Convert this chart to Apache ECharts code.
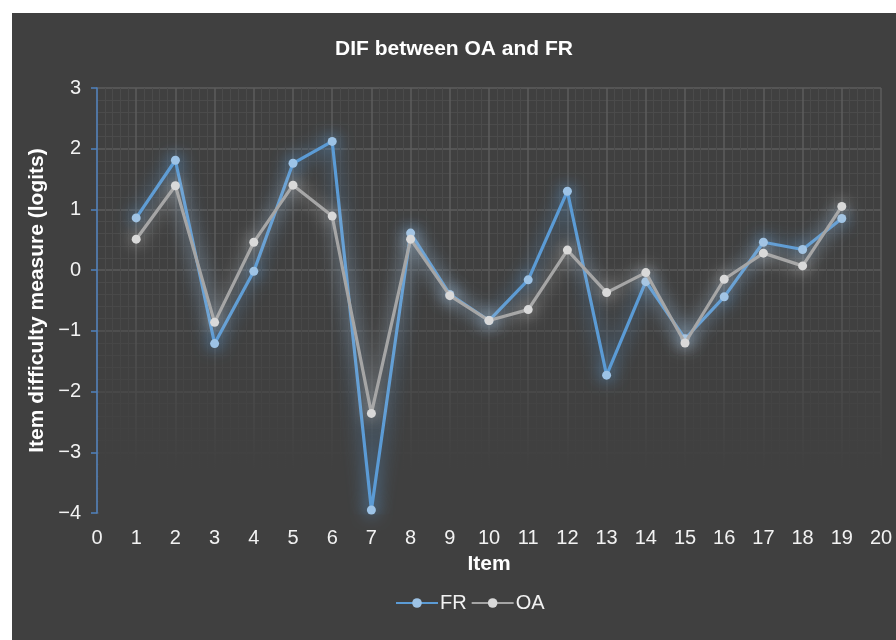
<!DOCTYPE html>
<html>
<head>
<meta charset="utf-8">
<script src="https://cdn.jsdelivr.net/npm/echarts@6/dist/echarts.min.js"></script>
<style>
html,body{margin:0;padding:0;background:#ffffff;width:896px;height:640px;overflow:hidden;}
#chart{position:absolute;left:12px;top:13px;width:884px;height:627px;}
</style>
</head>
<body>
<div id="chart"></div>
<script>
var items = [1,2,3,4,5,6,7,8,9,10,11,12,13,14,15,16,17,18,19];
var frValues = [0.86,1.81,-1.21,-0.02,1.76,2.12,-3.95,0.61,-0.40,-0.83,-0.16,1.30,-1.73,-0.19,-1.13,-0.44,0.46,0.34,0.85];
var oaValues = [0.51,1.39,-0.86,0.46,1.40,0.89,-2.36,0.51,-0.42,-0.83,-0.65,0.33,-0.37,-0.04,-1.20,-0.15,0.28,0.07,1.05];
var xTicks = {min:0, max:20, interval:1};
var yTicks = {min:-4, max:3, interval:1};

function pairs(vals){ return items.map(function(x,i){ return [x, vals[i]]; }); }

var chart = echarts.init(document.getElementById('chart'), null, {renderer:'canvas'});
var fontFam = '"Liberation Sans", Arial, sans-serif';
var option = {
  backgroundColor:'#404040',
  animation:false,
  title:{
    text:'DIF between OA and FR', left:'center', top:21,
    textStyle:{color:'#ffffff', fontSize:21, fontWeight:'bold', fontFamily:fontFam}
  },
  legend:{
    data:['FR','OA'], left:378, top:575, itemWidth:42, itemHeight:12, itemGap:4,
    textStyle:{color:'#f2f2f2', fontSize:20, fontFamily:fontFam, padding:[0,0,0,-3]}
  },
  grid:{left:85, top:75, right:15, bottom:127, containLabel:false},
  xAxis:{
    type:'value', min:xTicks.min, max:xTicks.max, interval:xTicks.interval,
    name:'Item', nameLocation:'middle', nameGap:41,
    nameTextStyle:{color:'#ffffff', fontSize:21, fontWeight:'bold', fontFamily:fontFam},
    axisLine:{show:false}, axisTick:{show:false},
    axisLabel:{color:'#f2f2f2', fontSize:20, margin:15, fontFamily:fontFam},
    splitLine:{show:true, lineStyle:{color:'#5c5c5c', width:1.5}},
    minorTick:{show:false, splitNumber:5},
    minorSplitLine:{show:true, lineStyle:{color:'#4b4b4b', width:1}}
  },
  yAxis:{
    type:'value', min:yTicks.min, max:yTicks.max, interval:yTicks.interval,
    name:'Item difficulty measure (logits)', nameLocation:'middle', nameGap:48,
    nameTextStyle:{color:'#ffffff', fontSize:21, fontWeight:'bold', fontFamily:fontFam},
    axisLine:{show:true, lineStyle:{color:'#4f81bd', width:1.5}},
    axisTick:{show:true, length:6, lineStyle:{color:'#4f81bd', width:1.5}},
    axisLabel:{color:'#f2f2f2', fontSize:20, margin:16, fontFamily:fontFam,
      formatter:function(v){ return String(v).replace('-','\u2212'); }},
    splitLine:{show:true, lineStyle:{color:'#5c5c5c', width:1.5}},
    minorTick:{show:false, splitNumber:5},
    minorSplitLine:{show:true, lineStyle:{color:'#4b4b4b', width:1}}
  },
  series:[
    {
      name:'FR', type:'line', data:pairs(frValues), z:3,
      symbol:'circle', symbolSize:9, showSymbol:true,
      lineStyle:{color:'#5b9bd5', width:3.2, shadowBlur:18, shadowColor:'rgba(91,155,213,1)'},
      itemStyle:{color:'#9dc3e6', borderWidth:0, shadowBlur:16, shadowColor:'rgba(91,155,213,1)'}
    },
    {
      name:'OA', type:'line', data:pairs(oaValues), z:4,
      symbol:'circle', symbolSize:9, showSymbol:true,
      lineStyle:{color:'#a5a5a5', width:3.2, shadowBlur:18, shadowColor:'rgba(210,210,210,0.85)'},
      itemStyle:{color:'#d9d9d9', borderWidth:0, shadowBlur:16, shadowColor:'rgba(210,210,210,0.85)'}
    }
  ]
};
chart.setOption(option);

// decorative fade of the gridlines toward the bottom of the plot area
var topLeft = chart.convertToPixel({gridIndex:0}, [xTicks.min, 0.2]);
var botRight = chart.convertToPixel({gridIndex:0}, [xTicks.max, yTicks.min]);
var fadeEnd = chart.convertToPixel({gridIndex:0}, [xTicks.min, -3.3]);
var h = botRight[1] - topLeft[1] + 3;
var stop = (fadeEnd[1] - topLeft[1]) / h;
chart.setOption({
  graphic:[{
    type:'rect', z:1, silent:true,
    shape:{x:topLeft[0]+1.5, y:topLeft[1], width:botRight[0]-topLeft[0]+2, height:h},
    style:{fill:new echarts.graphic.LinearGradient(0,0,0,1,[
      {offset:0, color:'rgba(64,64,64,0)'},
      {offset:stop, color:'rgba(64,64,64,1)'},
      {offset:1, color:'rgba(64,64,64,1)'}
    ])}
  }]
});
</script>
</body>
</html>
